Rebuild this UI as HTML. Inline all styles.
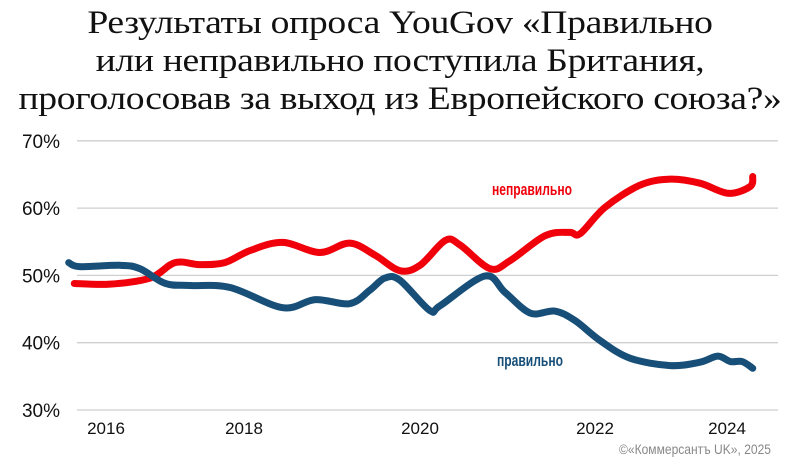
<!DOCTYPE html>
<html><head><meta charset="utf-8"><style>
body{margin:0;background:#fff;}
#c{position:relative;width:800px;height:461px;overflow:hidden;background:#fff;}
h1{position:absolute;left:0;top:4px;width:800px;margin:0;text-align:center;font-family:"Liberation Serif",serif;font-weight:normal;font-size:33px;line-height:38px;color:#111;letter-spacing:-0.3px;transform:scaleX(1.14);transform-origin:400px 0;}
svg{position:absolute;left:0;top:0;}
</style></head><body>
<div id="c">
<h1>Результаты опроса YouGov «Правильно<br>или неправильно поступила Британия,<br>проголосовав за выход из Европейского союза?»</h1>
<svg id="s" width="800" height="461"></svg>
</div>
<script>
const yTicks=[30,40,50,60,70];
const yTickLabels=["30%","40%","50%","60%","70%"];
const xTickYears=[2016,2018,2020,2022,2024];
const xTickLabels=["2016","2018","2020","2022","2024"];
const wrongYears=[2015.54,2016.06,2016.64,2017,2017.36,2017.72,2018.07,2018.44,2018.86,2019.2,2019.49,2019.77,2020,2020.29,2020.46,2020.8,2021.03,2021.43,2021.71,2021.83,2022.15,2022.68,2023.14,2023.59,2024.02,2024.35,2024.39];
const wrongValues=[48.8,48.7,49.6,51.9,51.6,51.9,53.7,54.9,53.4,54.8,53,50.7,51.5,55.2,54.5,51,52.2,55.9,56.4,56.2,60.1,63.4,64.3,63.7,62.2,63.2,64.7];
const rightYears=[2015.46,2015.62,2016.2,2016.49,2016.86,2017.22,2017.8,2018.44,2018.81,2019.2,2019.43,2019.6,2019.77,2020.11,2020.23,2020.74,2020.97,2021.26,2021.54,2021.77,2022.08,2022.53,2023.14,2023.59,2023.86,2024.05,2024.23,2024.39];
const rightValues=[51.9,51.3,51.5,51,48.8,48.5,48.2,45.2,46.4,45.8,47.8,49.6,49.3,44.8,45.5,49.9,47.5,44.4,44.7,43.3,40.3,37.7,36.6,37.1,38,37.2,37.2,36.2];

const NS="http://www.w3.org/2000/svg";
const svg=document.getElementById('s');
const tickPx=[106,244,420,595,727];
function x(yr){
  let i=0;
  if(yr<=xTickYears[0]) i=0;
  else if(yr>=xTickYears[xTickYears.length-1]) i=xTickYears.length-2;
  else while(yr>xTickYears[i+1]) i++;
  const t=(yr-xTickYears[i])/(xTickYears[i+1]-xTickYears[i]);
  return tickPx[i]+t*(tickPx[i+1]-tickPx[i]);
}
function y(v){return 410-(v-30)*6.73;}
function mk(tag,attrs){const e=document.createElementNS(NS,tag);for(const k in attrs)e.setAttribute(k,attrs[k]);svg.appendChild(e);return e;}

yTicks.forEach((t,i)=>{
  const g=mk('line',{x1:77,x2:778,y1:y(t),y2:y(t),stroke:'#cfcfcf','stroke-width':1.3});
  
  
  const l=mk('text',{x:60,y:y(t)+7,'text-anchor':'end','font-family':'Liberation Sans, sans-serif','font-size':19,fill:'#111'});
  l.textContent=yTickLabels[i];
  
  
});
xTickYears.forEach((yr,i)=>{
  const l=mk('text',{x:x(yr),y:434,'text-anchor':'middle','font-family':'Liberation Sans, sans-serif','font-size':17,fill:'#111'});
  l.textContent=xTickLabels[i];
  
  
});
function path(xs,vs){
  const p=xs.map((yr,i)=>[x(yr),y(vs[i])]);
  let d='M'+p[0][0]+','+p[0][1];
  for(let i=0;i<p.length-1;i++){
    const p0=p[Math.max(0,i-1)],p1=p[i],p2=p[i+1],p3=p[Math.min(p.length-1,i+2)];
    const c1=[p1[0]+(p2[0]-p0[0])/6,p1[1]+(p2[1]-p0[1])/6];
    const c2=[p2[0]-(p3[0]-p1[0])/6,p2[1]-(p3[1]-p1[1])/6];
    d+=' C'+c1[0]+','+c1[1]+' '+c2[0]+','+c2[1]+' '+p2[0]+','+p2[1];
  }
  return d;
}
const w=mk('path',{d:path(wrongYears,wrongValues),fill:'none',stroke:'#f0000a','stroke-width':7,'stroke-linecap':'round','stroke-linejoin':'round'});


const r=mk('path',{d:path(rightYears,rightValues),fill:'none',stroke:'#174f78','stroke-width':7,'stroke-linecap':'round','stroke-linejoin':'round'});



const lw=mk('text',{x:492,y:195,'font-family':'Liberation Sans, sans-serif','font-size':17,'font-weight':'bold',fill:'#f0000a',textLength:80,lengthAdjust:'spacingAndGlyphs'});
lw.textContent='неправильно';


const lr=mk('text',{x:497,y:366,'font-family':'Liberation Sans, sans-serif','font-size':17,'font-weight':'bold',fill:'#174f78',textLength:66,lengthAdjust:'spacingAndGlyphs'});
lr.textContent='правильно';


const cp=mk('text',{x:771,y:454,'text-anchor':'end','font-family':'Liberation Sans, sans-serif','font-size':14,fill:'#888',textLength:152,lengthAdjust:'spacingAndGlyphs'});
cp.textContent='©«Коммерсантъ UK», 2025';


</script>
</body></html>
